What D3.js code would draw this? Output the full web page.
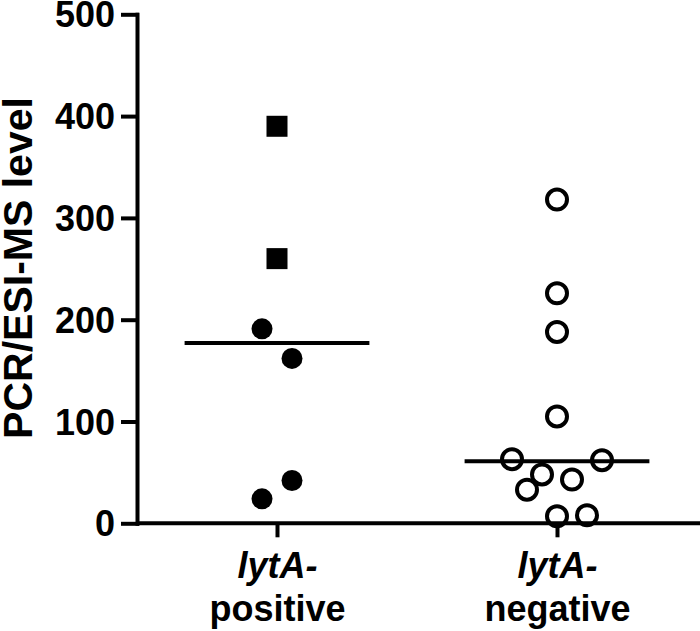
<!DOCTYPE html>
<html>
<head>
<meta charset="utf-8">
<script src="https://cdn.jsdelivr.net/npm/d3@7"></script>
<style>
  html, body { margin: 0; padding: 0; background: #fff; }
  svg { display: block; }
  text { font-family: "Liberation Sans", Arial, Helvetica, sans-serif; fill: #000; }
</style>
</head>
<body>
<svg id="chart" width="700" height="631"></svg>
<script>
// ---- data ----
const categories = ["positive", "negative"];
const categoryPrefix = ["lytA-", "lytA-"];
const yTicks = [0, 100, 200, 300, 400, 500];
const yTitle = "PCR/ESI-MS level";

const posValues = [390, 260, 191, 162, 42, 24];
const posShapes = ["square", "square", "circle", "circle", "circle", "circle"];
const posSlots  = [0, 0, -1, 1, 1, -1];

const negValues = [318, 226, 188, 105, 63, 62, 48, 43, 33, 7, 8];
const negSlots  = [0, 0, 0, 0, -3, 3, -1, 1, -2, 0, 2];

const medians = [177, 61];

// ---- layout ----
const W = 700, H = 631;
const axisX = 137, y0px = 523.3, y500px = 14.3;
const r = 10.5;
const slotW = 15;

const svg = d3.select("#chart");

const y = d3.scaleLinear().domain([0, 500]).range([y0px, y500px]);
const x = d3.scalePoint().domain(categories).range([axisX, 697]).padding(0.5);
const step = x.step();

// Y axis
const yAxis = svg.append("g")
  .attr("transform", `translate(${axisX},0)`)
  .call(d3.axisLeft(y).tickValues(yTicks).tickSize(14).tickSizeOuter(0).tickPadding(8));
yAxis.selectAll("path, line").attr("stroke", "#000").attr("stroke-width", 4).attr("stroke-linecap", "square");
yAxis.selectAll("text")
  .style("font-size", "36px").style("font-weight", "bold")
  .attr("dy", "0.35em");

// X axis
const xAxis = svg.append("g")
  .attr("transform", `translate(0,${y0px})`)
  .call(d3.axisBottom(x).tickSize(14).tickSizeOuter(0).tickFormat(""));
xAxis.select(".domain").attr("d", `M${axisX},0H${W + 5}`);
xAxis.selectAll("path, line").attr("stroke", "#000").attr("stroke-width", 4);
xAxis.selectAll(".tick").each(function(d, i) {
  const g = d3.select(this);
  g.select("text").remove();
  const t = g.append("text").attr("text-anchor", "middle").style("font-size", "36px").style("font-weight", "bold");
  t.append("tspan").attr("x", 0).attr("y", 578 - y0px).style("font-style", "italic").text(categoryPrefix[i]);
  t.append("tspan").attr("x", 0).attr("y", 621 - y0px).text(categories[i]);
});

// Y title
svg.append("text")
  .attr("transform", `translate(32,268) rotate(-90)`)
  .attr("text-anchor", "middle")
  .style("font-size", "41px").style("font-weight", "bold")
  .text(yTitle);

// Medians
svg.append("g").selectAll("line")
  .data(medians)
  .join("line")
  .attr("x1", (d, i) => x(categories[i]) - step * 0.33)
  .attr("x2", (d, i) => x(categories[i]) + step * 0.33)
  .attr("y1", d => y(d))
  .attr("y2", d => y(d))
  .attr("stroke", "#000").attr("stroke-width", 4);

// Positive points
const posData = posValues.map((v, i) => ({ v, shape: posShapes[i], slot: posSlots[i] }));
const pg = svg.append("g");
pg.selectAll("rect")
  .data(posData.filter(d => d.shape === "square"))
  .join("rect")
  .attr("x", d => x(categories[0]) + d.slot * slotW - r)
  .attr("y", d => y(d.v) - r)
  .attr("width", 2 * r).attr("height", 2 * r)
  .attr("fill", "#000");
pg.selectAll("circle")
  .data(posData.filter(d => d.shape === "circle"))
  .join("circle")
  .attr("cx", d => x(categories[0]) + d.slot * slotW)
  .attr("cy", d => y(d.v))
  .attr("r", r)
  .attr("fill", "#000");

// Negative points
const negData = negValues.map((v, i) => ({ v, slot: negSlots[i] }));
svg.append("g").selectAll("circle")
  .data(negData)
  .join("circle")
  .attr("cx", d => x(categories[1]) + d.slot * slotW)
  .attr("cy", d => y(d.v))
  .attr("r", r - 0.5)
  .attr("fill", "none")
  .attr("stroke", "#000")
  .attr("stroke-width", 4);
</script>
</body>
</html>
